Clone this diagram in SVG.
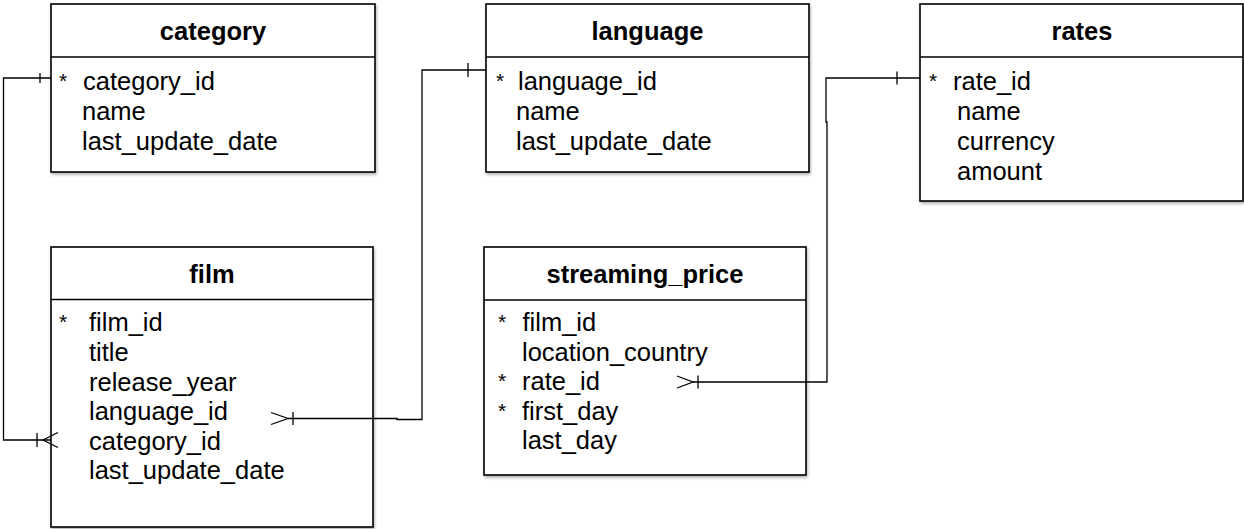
<svg xmlns="http://www.w3.org/2000/svg" width="1244" height="529" viewBox="0 0 1244 529">
<style>
.box{fill:#fff;stroke:#000;stroke-width:1.6;filter:url(#sh)}
.hdr{stroke:#000;stroke-width:1.4}
.title{font-family:"Liberation Sans",Arial,sans-serif;font-weight:bold;font-size:25.5px;text-anchor:middle;fill:#000}
.f{font-family:"Liberation Sans",Arial,sans-serif;font-size:25.5px;fill:#000}
.star{font-family:"Liberation Sans",Arial,sans-serif;font-size:21px;fill:#000}
.c{fill:none;stroke:#000;stroke-width:1.3}
</style>
<defs>
<filter id="sh" x="-5%" y="-5%" width="115%" height="115%">
<feDropShadow dx="1" dy="2" stdDeviation="1.5" flood-color="#000" flood-opacity="0.3"/>
</filter>
</defs>
<rect width="1244" height="529" fill="#fff"/>

<g id="category">
  <rect class="box" x="51" y="4" width="324" height="168"/>
  <line class="hdr" x1="51" y1="57" x2="375" y2="57"/>
  <text class="title" x="213" y="40">category</text>
  <text class="star" x="59" y="88">*</text>
  <text class="f" x="83" y="90">category_id</text>
  <text class="f" x="82" y="120">name</text>
  <text class="f" x="82" y="150">last_update_date</text>
</g>

<g id="language">
  <rect class="box" x="486" y="4" width="323" height="168"/>
  <line class="hdr" x1="486" y1="57" x2="809" y2="57"/>
  <text class="title" x="647.5" y="40">language</text>
  <text class="star" x="496" y="88">*</text>
  <text class="f" x="518" y="90">language_id</text>
  <text class="f" x="516" y="120">name</text>
  <text class="f" x="516" y="150">last_update_date</text>
</g>

<g id="rates">
  <rect class="box" x="920" y="4" width="323" height="197"/>
  <line class="hdr" x1="920" y1="57" x2="1243" y2="57"/>
  <text class="title" x="1082" y="40">rates</text>
  <text class="star" x="929" y="88">*</text>
  <text class="f" x="953" y="90">rate_id</text>
  <text class="f" x="957" y="120">name</text>
  <text class="f" x="957" y="150">currency</text>
  <text class="f" x="957" y="180">amount</text>
</g>

<g id="film">
  <rect class="box" x="51" y="247" width="322" height="280"/>
  <line class="hdr" x1="51" y1="299.5" x2="373" y2="299.5"/>
  <text class="title" x="212" y="283">film</text>
  <text class="star" x="59" y="329">*</text>
  <text class="f" x="89" y="331">film_id</text>
  <text class="f" x="89" y="361">title</text>
  <text class="f" x="89" y="390.5">release_year</text>
  <text class="f" x="89" y="420">language_id</text>
  <text class="f" x="89" y="449.5">category_id</text>
  <text class="f" x="89" y="479">last_update_date</text>
</g>

<g id="streaming_price">
  <rect class="box" x="484" y="247" width="322" height="228"/>
  <line class="hdr" x1="484" y1="300" x2="806" y2="300"/>
  <text class="title" x="645" y="283">streaming_price</text>
  <text class="star" x="498" y="329">*</text>
  <text class="f" x="522.5" y="331">film_id</text>
  <text class="f" x="522" y="360.5">location_country</text>
  <text class="star" x="498" y="388">*</text>
  <text class="f" x="522" y="390">rate_id</text>
  <text class="star" x="498" y="417.5">*</text>
  <text class="f" x="522" y="419.5">first_day</text>
  <text class="f" x="522" y="449">last_day</text>
</g>

<g id="connectors">
  <!-- category -> film -->
  <path class="c" d="M51,78 H3.5 V440 H51"/>
  <path class="c" d="M40,73 V83"/>
  <path class="c" d="M37,433 V447 M58,432.5 L43,440 L58,447.5"/>
  <!-- film -> language -->
  <path class="c" d="M288,418.5 H397 V419.5 H422 V70 H486"/>
  <path class="c" d="M271,412.5 L288,418.5 L271,424.5 M293,412 V425"/>
  <path class="c" d="M468,63 V77"/>
  <!-- streaming_price -> rates -->
  <path class="c" d="M693,382 H827 V122 H826 V78 H920"/>
  <path class="c" d="M677,376 L693,382 L677,388 M698,375.5 V388.5"/>
  <path class="c" d="M897,71.5 V84.5"/>
</g>
</svg>
